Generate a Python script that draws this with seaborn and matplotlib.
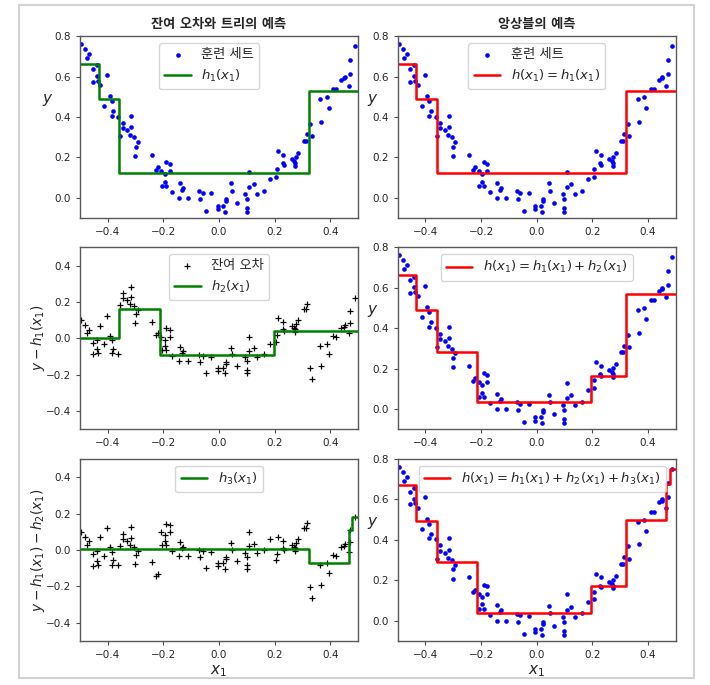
"""그레이디언트 부스팅: 잔여 오차와 트리의 예측, 앙상블의 예측."""

import matplotlib

matplotlib.use("Agg")
import matplotlib.pyplot as plt
import numpy as np
import seaborn as sns
from matplotlib.patches import Rectangle

# 훈련 세트
X_TRAIN = [
    -0.495, -0.481, -0.476, -0.468, -0.455, -0.454, -0.440, -0.440, -0.436, -0.427,
    -0.413, -0.403, -0.393, -0.386, -0.386, -0.380, -0.362, -0.357, -0.347, -0.346,
    -0.331, -0.320, -0.317, -0.316, -0.304, -0.302, -0.300, -0.292, -0.242, -0.228,
    -0.221, -0.208, -0.206, -0.196, -0.196, -0.190, -0.190, -0.177, -0.177, -0.168,
    -0.144, -0.141, -0.133, -0.128, -0.111, -0.071, -0.067, -0.059, -0.046, -0.029,
    -0.005, -0.005, 0.014, 0.020, 0.024, 0.024, 0.043, 0.047, 0.063, 0.094,
    0.099, 0.099, 0.099, 0.108, 0.109, 0.125, 0.138, 0.163, 0.185, 0.206,
    0.208, 0.214, 0.229, 0.231, 0.233, 0.261, 0.270, 0.274, 0.274, 0.276,
    0.285, 0.305, 0.312, 0.315, 0.328, 0.333, 0.365, 0.367, 0.387, 0.395,
    0.410, 0.421, 0.440, 0.451, 0.452, 0.466, 0.471, 0.472, 0.488,
]
Y_TRAIN = [
    0.762, 0.737, 0.692, 0.712, 0.576, 0.639, 0.656, 0.604, 0.581, 0.558,
    0.455, 0.611, 0.503, 0.478, 0.407, 0.430, 0.403, 0.305, 0.345, 0.373,
    0.334, 0.310, 0.350, 0.408, 0.299, 0.206, 0.254, 0.276, 0.214, 0.139,
    0.153, 0.131, 0.058, 0.116, 0.080, 0.178, 0.058, 0.169, 0.131, 0.027,
    0.000, 0.075, 0.041, 0.051, -0.002, 0.033, -0.007, 0.025, -0.066, 0.022,
    -0.041, -0.058, -0.041, -0.071, -0.007, -0.018, 0.071, 0.035, -0.028, 0.017,
    -0.005, -0.050, -0.071, 0.129, 0.053, 0.068, 0.017, 0.035, 0.091, 0.105,
    0.141, 0.232, 0.173, 0.214, 0.164, 0.191, 0.181, 0.159, 0.173, 0.201,
    0.222, 0.282, 0.282, 0.314, 0.367, 0.305, 0.488, 0.377, 0.498, 0.443,
    0.539, 0.538, 0.586, 0.593, 0.601, 0.556, 0.614, 0.681, 0.752,
]

# 각 회귀 트리의 분할 위치와 리프 값
H1_SPLITS = [-0.433, -0.36, 0.323]
H1_VALUES = [0.664, 0.488, 0.123, 0.529]
H2_SPLITS = [-0.36, -0.214, 0.197]
H2_VALUES = [0.0, 0.160, -0.090, 0.040]
H3_SPLITS = [0.323, 0.467, 0.479]
H3_VALUES = [0.006, -0.071, 0.110, 0.180]

X_RANGE = (-0.5, 0.5)
Y_RANGE = (-0.1, 0.8)
RES_RANGE = (-0.5, 0.5)
X_TICKS = [-0.4, -0.2, 0.0, 0.2, 0.4]
Y_TICKS = [0.0, 0.2, 0.4, 0.6, 0.8]
RES_TICKS = [-0.4, -0.2, 0.0, 0.2, 0.4]

TITLES = ["잔여 오차와 트리의 예측", "앙상블의 예측"]
DATA_LABEL = "훈련 세트"
RES_LABEL = "잔여 오차"


def predict(x, splits, values):
    """분할 위치로 리프를 찾아 트리 예측값을 돌려준다."""
    return np.asarray(values)[np.searchsorted(splits, x, side="right")]


def combine(trees):
    """여러 트리 예측의 합을 하나의 계단 함수로 만든다."""
    splits = sorted({s for sp, _ in trees for s in sp})
    edges = [X_RANGE[0]] + splits + [X_RANGE[1]]
    mids = np.array([(a + b) / 2 for a, b in zip(edges[:-1], edges[1:])])
    values = sum(predict(mids, sp, v) for sp, v in trees)
    return splits, list(values)


def draw_tree(ax, splits, values, color, label):
    xs = [X_RANGE[0]] + list(splits) + [X_RANGE[1]]
    ys = list(values) + [values[-1]]
    sns.lineplot(x=xs, y=ys, color=color, linewidth=1.8, drawstyle="steps-post",
                 estimator=None, label=label, ax=ax)


def style_axes(ax, ylim, yticks):
    ax.set_xlim(*X_RANGE)
    ax.set_ylim(*ylim)
    ax.set_xticks(X_TICKS)
    ax.set_yticks(yticks)
    ax.tick_params(labelsize=7.5, length=3, width=0.8, color="0.3")
    for spine in ax.spines.values():
        spine.set_edgecolor("0.35")
        spine.set_linewidth(1.0)


def main() -> None:
    sns.set_style("ticks")
    plt.rcParams["font.family"] = ["DejaVu Sans", "Noto Sans CJK KR"]
    plt.rcParams["axes.unicode_minus"] = True

    fig = plt.figure(figsize=(7.1, 6.85), dpi=100)
    lefts = [0.1127, 0.5601]
    bottoms = [0.6818, 0.3737, 0.0647]
    w, h = 0.3915, 0.265
    axes = [[fig.add_axes([l, b, w, h]) for l in lefts] for b in bottoms]

    x = np.array(X_TRAIN)
    y = np.array(Y_TRAIN)
    res1 = y - predict(x, H1_SPLITS, H1_VALUES)
    res2 = res1 - predict(x, H2_SPLITS, H2_VALUES)

    trees = [(H1_SPLITS, H1_VALUES), (H2_SPLITS, H2_VALUES), (H3_SPLITS, H3_VALUES)]
    tree_labels = ["$h_1(x_1)$", "$h_2(x_1)$", "$h_3(x_1)$"]
    ens_labels = [
        "$h(x_1) = h_1(x_1)$",
        "$h(x_1) = h_1(x_1) + h_2(x_1)$",
        "$h(x_1) = h_1(x_1) + h_2(x_1) + h_3(x_1)$",
    ]
    residuals = [None, res1, res2]
    res_ylabels = [None, "$y - h_1(x_1)$", "$y - h_1(x_1) - h_2(x_1)$"]
    left_anchor = [0.465, 0.5, 0.5]
    right_anchor = [0.5, 0.5, 0.52]

    for row in range(3):
        ax_l, ax_r = axes[row]

        # 왼쪽: 훈련 세트(또는 잔여 오차)와 개별 트리
        if row == 0:
            sns.scatterplot(x=x, y=y, color="b", marker="o", s=11, linewidth=0,
                            label=DATA_LABEL, ax=ax_l)
            style_axes(ax_l, Y_RANGE, Y_TICKS)
        else:
            sns.scatterplot(x=x, y=residuals[row], color="k", marker="+", s=24,
                            linewidth=0.9, label=RES_LABEL if row == 1 else None,
                            ax=ax_l)
            style_axes(ax_l, RES_RANGE, RES_TICKS)
        sp, v = trees[row]
        draw_tree(ax_l, sp, v, "g", tree_labels[row])
        ax_l.legend(loc="upper center", bbox_to_anchor=(left_anchor[row], 1.0),
                    fontsize=9.5, numpoints=1)

        # 오른쪽: 앙상블 예측
        sns.scatterplot(x=x, y=y, color="b", marker="o", s=11, linewidth=0,
                        label=DATA_LABEL if row == 0 else None, ax=ax_r)
        e_sp, e_v = combine(trees[: row + 1])
        draw_tree(ax_r, e_sp, e_v, "r", ens_labels[row])
        style_axes(ax_r, Y_RANGE, Y_TICKS)
        ax_r.legend(loc="upper center", bbox_to_anchor=(right_anchor[row], 1.0),
                    fontsize=9.5, numpoints=1)

        # 축 레이블
        ax_r.set_ylabel("$y$", fontsize=11, rotation=0, ha="center", va="center")
        ax_r.yaxis.set_label_coords(-0.09, 0.65)
        if row == 0:
            ax_l.set_ylabel("$y$", fontsize=11, rotation=0, ha="center", va="center")
            ax_l.yaxis.set_label_coords(-0.115, 0.65)
        else:
            ax_l.set_ylabel(res_ylabels[row], fontsize=9.8, va="center")
            ax_l.yaxis.set_label_coords(-0.15, 0.5)
        for ax in (ax_l, ax_r):
            ax.set_xlabel("$x_1$" if row == 2 else "", fontsize=11)
            ax.xaxis.set_label_coords(0.5, -0.125)

    for ax, title in zip(axes[0], TITLES):
        ax.set_title(title, fontsize=9.5, fontweight="bold", pad=6)

    # 스크린샷 테두리
    fig.patches.append(Rectangle((19 / 710, 1 - 678 / 685), 675 / 710, 673 / 685,
                                 transform=fig.transFigure, fill=False,
                                 edgecolor="#d2d2d2", linewidth=1.5))

    fig.savefig("out.png", dpi=100, facecolor="white")
    plt.close(fig)


if __name__ == "__main__":
    main()
